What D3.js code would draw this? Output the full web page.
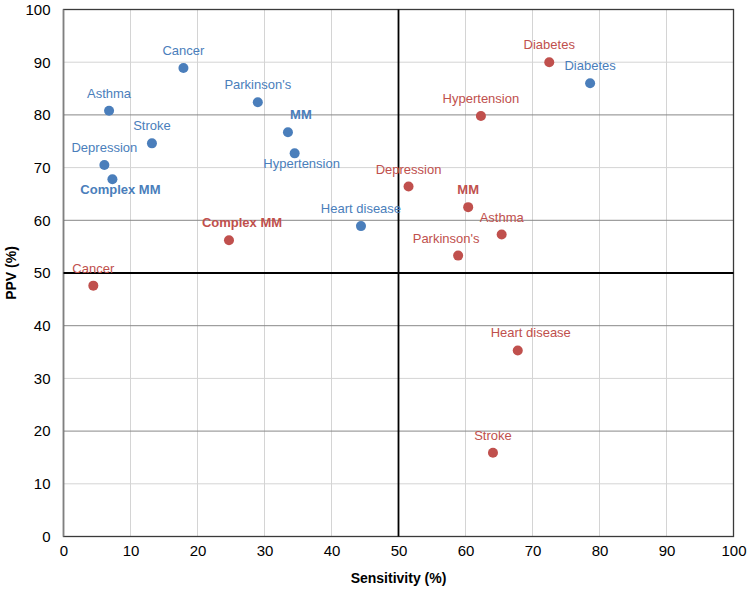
<!DOCTYPE html>
<html><head><meta charset="utf-8">
<script src="https://cdn.jsdelivr.net/npm/d3@7"></script>
<style>body{margin:0;background:#fff;} svg{display:block;font-family:"Liberation Sans",Arial,sans-serif;}</style>
</head><body><svg id="c" width="750" height="589"></svg>
<script>
// Data
const blueLabels = ["Cancer","Asthma","Stroke","Depression","Complex MM","Parkinson's","MM","Hypertension","Heart disease","Diabetes"];
const blueSens   = [17.9, 6.8, 13.2, 6.1, 7.3, 29.0, 33.5, 34.5, 44.4, 78.6];
const bluePPV    = [88.9, 80.8, 74.6, 70.5, 67.8, 82.4, 76.7, 72.7, 58.9, 86.0];
const blueBold   = [false,false,false,false,true,false,true,false,false,false];
const blueLabelPos = ["above","above","above","above","belowR","above","aboveR","below","above","above"];

const redLabels = ["Cancer","Complex MM","Diabetes","Hypertension","Depression","MM","Asthma","Parkinson's","Heart disease","Stroke"];
const redSens   = [4.45, 24.7, 72.5, 62.3, 51.5, 60.4, 65.4, 58.9, 67.8, 64.1];
const redPPV    = [47.6, 56.2, 90.0, 79.8, 66.4, 62.5, 57.3, 53.3, 35.3, 15.9];
const redBold   = [false,true,false,false,false,true,false,false,false,false];
const redLabelPos = ["above","aboveR","above","above","above","above","above","aboveL","aboveR","above"];

const xTicks = [0,10,20,30,40,50,60,70,80,90,100];
const yTicks = [0,10,20,30,40,50,60,70,80,90,100];
const xTitle = "Sensitivity (%)";
const yTitle = "PPV (%)";

const svg = d3.select("#c");
const L = 63.5, R = 733.5, T = 9.5, B = 536.5;
const x = d3.scaleLinear().domain([0,100]).range([L,R]);
const y = d3.scaleLinear().domain([0,100]).range([B,T]);

// gridlines
const g = svg.append("g");
g.selectAll(".vg").data(xTicks.filter(d=>d>0&&d<100&&d!==50)).enter().append("line")
  .attr("x1",d=>x(d)).attr("x2",d=>x(d)).attr("y1",T).attr("y2",B)
  .attr("stroke","#d4d4d4").attr("stroke-width",1);
g.selectAll(".hg").data(yTicks.filter(d=>d>0&&d<100&&d!==50)).enter().append("line")
  .attr("y1",d=>y(d)).attr("y2",d=>y(d)).attr("x1",L).attr("x2",R)
  .attr("stroke",d=>d%20===0?"#888888":"#d4d4d4").attr("stroke-width",1);

// border
svg.append("rect").attr("x",L).attr("y",T).attr("width",R-L).attr("height",B-T)
  .attr("fill","none").attr("stroke","#3a3a3a").attr("stroke-width",1.3);
svg.append("line").attr("x1",L).attr("x2",L).attr("y1",T).attr("y2",B).attr("stroke","#808080").attr("stroke-width",1.5);

// quadrant lines
svg.append("line").attr("x1",x(50)).attr("x2",x(50)).attr("y1",T).attr("y2",B).attr("stroke","#000").attr("stroke-width",1.8);
svg.append("line").attr("x1",L).attr("x2",R).attr("y1",y(50)).attr("y2",y(50)).attr("stroke","#000").attr("stroke-width",1.8);

// axes tick labels
const xAxis = d3.axisBottom(x).tickValues(xTicks).tickSize(0).tickPadding(9);
const xa = svg.append("g").attr("transform",`translate(0,${B})`).call(xAxis);
xa.select(".domain").remove();
xa.selectAll("text").attr("font-size",15).attr("fill","#000").attr("font-family","Liberation Sans, Arial, sans-serif");
const yAxis = d3.axisLeft(y).tickValues(yTicks).tickSize(0).tickPadding(13);
const ya = svg.append("g").attr("transform",`translate(${L},0)`).call(yAxis);
ya.select(".domain").remove();
ya.selectAll("text").attr("font-size",15).attr("fill","#000").attr("font-family","Liberation Sans, Arial, sans-serif");

svg.append("text").attr("x",(L+R)/2).attr("y",583).attr("text-anchor","middle")
  .attr("font-size",14).attr("font-weight","bold").text(xTitle);
svg.append("text").attr("transform",`translate(16,${(T+B)/2}) rotate(-90)`).attr("text-anchor","middle")
  .attr("font-size",14).attr("font-weight","bold").text(yTitle);

function series(labels, sx, sy, bold, pos, color){
  const data = labels.map((l,i)=>({l, sx:sx[i], sy:sy[i], b:bold[i], p:pos[i]}));
  svg.append("g").selectAll("circle").data(data).enter().append("circle")
    .attr("cx",d=>x(d.sx)).attr("cy",d=>y(d.sy)).attr("r",5).attr("fill",color);
  svg.append("g").selectAll("text").data(data).enter().append("text")
    .attr("x",d=>x(d.sx) + (d.p==="aboveR"?13:d.p==="belowR"?8:d.p==="aboveL"?-12:d.p==="below"?7:0))
    .attr("y",d=>y(d.sy) + (d.p.startsWith("below")?15:-13))
    .attr("text-anchor","middle").attr("font-size",13)
    .attr("font-weight",d=>d.b?"bold":"normal").attr("fill",color).text(d=>d.l);
}
series(blueLabels, blueSens, bluePPV, blueBold, blueLabelPos, "#4a7ebb");
series(redLabels, redSens, redPPV, redBold, redLabelPos, "#c0504d");
</script></body></html>
